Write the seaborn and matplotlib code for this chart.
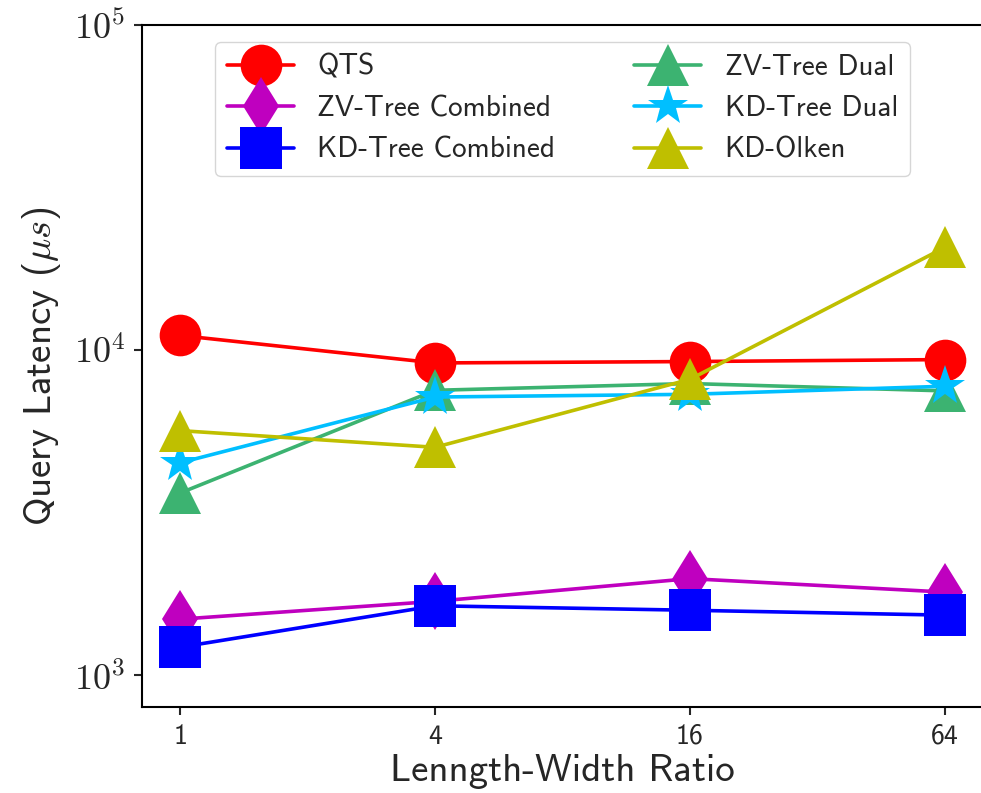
import numpy as np
import pandas as pd
import seaborn as sns
import matplotlib
matplotlib.use("Agg")
import matplotlib.pyplot as plt
from matplotlib.ticker import FuncFormatter, FixedLocator

# ---- data ----
ratios = ["1", "4", "16", "64"]
series_names = ["QTS", "ZV-Tree Combined", "KD-Tree Combined",
                "ZV-Tree Dual", "KD-Tree Dual", "KD-Olken"]
qts = [11100, 9140, 9230, 9360]
zv_combined = [1490, 1690, 1985, 1805]
kd_combined = [1222, 1638, 1587, 1533]
zv_dual = [3640, 7530, 7900, 7500]
kd_dual = [4510, 7180, 7320, 7750]
kd_olken = [5660, 5030, 8140, 20700]
y_ticks = [1e3, 1e4, 1e5]

series_values = [qts, zv_combined, kd_combined, zv_dual, kd_dual, kd_olken]
colors = ["red", "m", "b", "mediumseagreen", "deepskyblue", "y"]
markers = ["o", "d", "s", "^", "*", "^"]

sns.set_style("ticks")
plt.rcParams["font.family"] = ["cmss10", "DejaVu Sans"]
plt.rcParams["mathtext.fontset"] = "cm"
plt.rcParams["axes.unicode_minus"] = False

fig = plt.figure(figsize=(9.81, 7.93), dpi=100)
ax = fig.add_axes([142 / 981, 86 / 793, (983 - 142) / 981, (768 - 86) / 793])

x = np.arange(len(ratios))
for name, vals, c, m in zip(series_names, series_values, colors, markers):
    df = pd.DataFrame({"x": x, "y": vals})
    sns.lineplot(data=df, x="x", y="y", ax=ax, color=c, marker=m,
                 markersize=30, markeredgecolor=c, markeredgewidth=0,
                 linewidth=2.6, label=name)

ax.set_yscale("log")
ax.set_ylim(800, 1e5)
ax.set_xlim(-0.15, 3.15)
ax.set_xticks(x)
ax.set_xticklabels(ratios)
ax.minorticks_off()
ax.yaxis.set_major_locator(FixedLocator(y_ticks))
ax.yaxis.set_major_formatter(FuncFormatter(lambda v, p: r"$10^{%d}$" % int(round(np.log10(v)))))
ax.tick_params(axis="x", labelsize=20, length=6, width=1.5, pad=6)
ax.tick_params(axis="y", labelsize=26, length=6, width=1.5, pad=6)

for s in ["left", "bottom", "top"]:
    ax.spines[s].set_linewidth(1.5)
    ax.spines[s].set_color("black")
ax.spines["right"].set_visible(False)

ax.set_xlabel("Lenngth-Width Ratio", fontsize=28, labelpad=4)
ax.set_ylabel(r"Query Latency ($\mu s$)", fontsize=28, labelpad=8)

leg = ax.legend(loc="upper center", bbox_to_anchor=(0.5, 0.975), ncol=2,
                fontsize=21, borderaxespad=0, handlelength=2.3,
                columnspacing=2.7, frameon=True)

fig.savefig("out.png", dpi=100)
